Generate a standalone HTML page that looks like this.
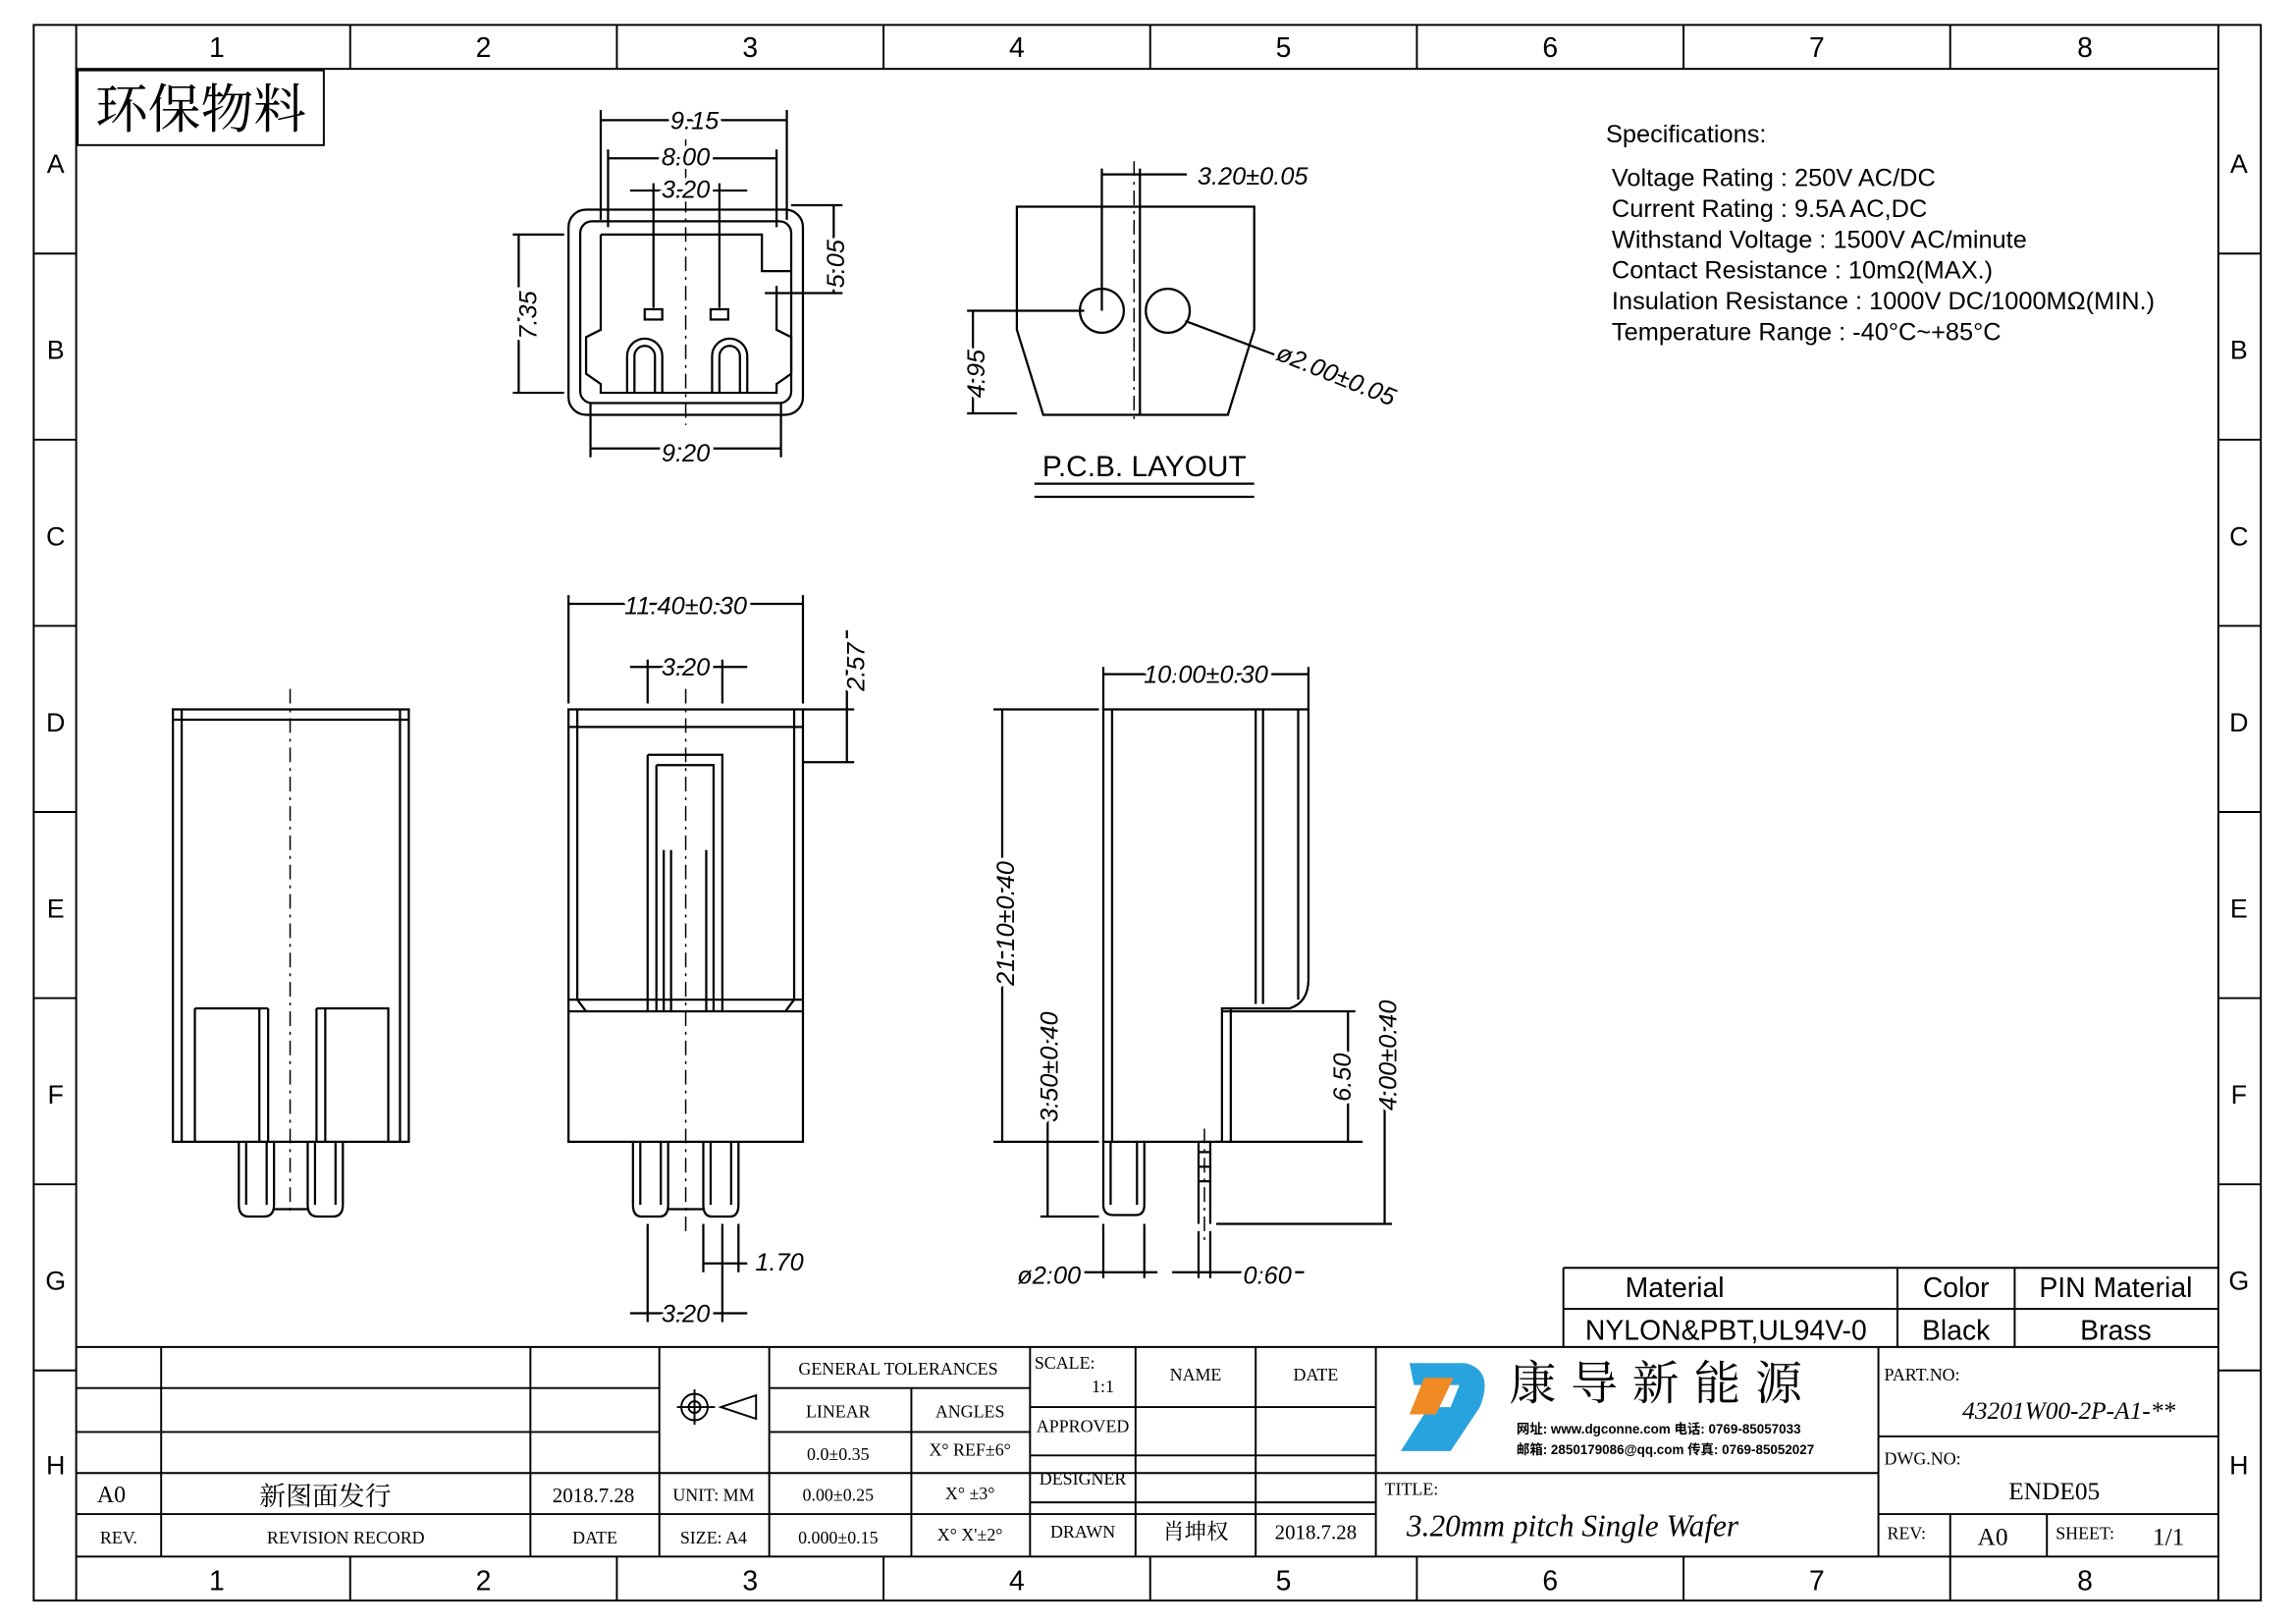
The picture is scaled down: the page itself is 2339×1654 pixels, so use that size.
<!DOCTYPE html>
<html><head><meta charset="utf-8"><style>
html,body{margin:0;padding:0;background:#fff}
svg{display:block}
text{font-family:"Liberation Sans","Noto Sans CJK SC",sans-serif;fill:#000}
.s{font-family:"Liberation Serif","Noto Serif CJK SC",serif}
.d text{stroke:#fff;stroke-width:5px;paint-order:stroke;stroke-linejoin:round}
</style></head><body>
<svg width="2339" height="1654" viewBox="0 0 1567 1108" preserveAspectRatio="none" xmlns="http://www.w3.org/2000/svg">
<g fill="none" stroke="#000" stroke-width="1.3">
<rect x="23" y="17" width="1520" height="1075"/>
<rect x="52" y="47" width="1462" height="1015"/>
<line x1="52" y1="17" x2="52" y2="47"/><line x1="52" y1="1062" x2="52" y2="1092"/>
<line x1="1514" y1="17" x2="1514" y2="47"/><line x1="1514" y1="1062" x2="1514" y2="1092"/>
<g id="cd">
<line x1="239" y1="17" x2="239" y2="47"/><line x1="421" y1="17" x2="421" y2="47"/><line x1="603" y1="17" x2="603" y2="47"/><line x1="785" y1="17" x2="785" y2="47"/><line x1="967" y1="17" x2="967" y2="47"/><line x1="1149" y1="17" x2="1149" y2="47"/><line x1="1331" y1="17" x2="1331" y2="47"/>
</g>
<use href="#cd" transform="translate(0,1045)"/>
<g id="rd">
<line x1="23" y1="173" x2="52" y2="173"/><line x1="23" y1="300" x2="52" y2="300"/><line x1="23" y1="427" x2="52" y2="427"/><line x1="23" y1="554" x2="52" y2="554"/><line x1="23" y1="681" x2="52" y2="681"/><line x1="23" y1="808" x2="52" y2="808"/><line x1="23" y1="935" x2="52" y2="935"/>
</g>
<use href="#rd" transform="translate(1491,0)"/>
<rect x="53" y="48" width="168" height="51"/>
</g>
<g font-size="19" text-anchor="middle">
<text x="148" y="39">1</text><text x="330" y="39">2</text><text x="512" y="39">3</text><text x="694" y="39">4</text><text x="876" y="39">5</text><text x="1058" y="39">6</text><text x="1240" y="39">7</text><text x="1423" y="39">8</text>
<text x="148" y="1085">1</text><text x="330" y="1085">2</text><text x="512" y="1085">3</text><text x="694" y="1085">4</text><text x="876" y="1085">5</text><text x="1058" y="1085">6</text><text x="1240" y="1085">7</text><text x="1423" y="1085">8</text>
</g>
<g font-size="18" text-anchor="middle">
<text x="38" y="118">A</text><text x="38" y="245">B</text><text x="38" y="372">C</text><text x="38" y="499">D</text><text x="38" y="626">E</text><text x="38" y="753">F</text><text x="38" y="880">G</text><text x="38" y="1006">H</text>
<text x="1528" y="118">A</text><text x="1528" y="245">B</text><text x="1528" y="372">C</text><text x="1528" y="499">D</text><text x="1528" y="626">E</text><text x="1528" y="753">F</text><text x="1528" y="880">G</text><text x="1528" y="1006">H</text>
</g>
<text x="137" y="87" font-size="36" text-anchor="middle" class="s">环保物料</text>

<g font-size="17">
<text x="1096" y="97">Specifications:</text>
<text x="1100" y="127">Voltage Rating : 250V AC/DC</text>
<text x="1100" y="148">Current Rating : 9.5A AC,DC</text>
<text x="1100" y="169">Withstand Voltage : 1500V AC/minute</text>
<text x="1100" y="190">Contact Resistance : 10mΩ(MAX.)</text>
<text x="1100" y="211">Insulation Resistance : 1000V DC/1000MΩ(MIN.)</text>
<text x="1100" y="232">Temperature Range : -40°C~+85°C</text>
</g>

<g fill="none" stroke="#000" stroke-width="1.5">
<rect x="388" y="143" width="160" height="140" rx="12"/>
<rect x="396" y="151" width="144" height="124" rx="8"/>
<path d="M410 160 H520 V185 H540 M410 160 V225 L400 230 V255 L410 262 V268 H530 V262 L540 255 V230 L530 225 V195"/>
<rect x="440" y="211" width="12" height="7"/><rect x="485" y="211" width="12" height="7"/>
<path d="M428 268 V243 A12 12 0 0 1 452 243 V268 M433 268 V243 A7 7 0 0 1 447 243 V268"/>
<path d="M486 268 V243 A12 12 0 0 1 510 243 V268 M491 268 V243 A7 7 0 0 1 505 243 V268"/>
<path d="M410 75 V150 M537 75 V150 M410 82 H537 M415 102 V155 M530 102 V155 M415 108 H530 M446 125 V210 M491 125 V210 M430 130 H510 M350 160 H385 M350 268 H385 M354 160 V268 M540 140 H575 M522 200 H575 M569 140 V200 M403 275 V312 M533 275 V312 M403 306 H533"/>
<path d="M694 141 H856 V225 L838 283 H712 L694 225 Z"/>
<circle cx="752" cy="212" r="15"/><circle cx="797" cy="212" r="15"/>
<path d="M752 115 V212 M778 115 V283 M752 119 H810 M660 212 H740 M660 282 H694 M664 212 V282 M809 219 L870 242 M706 330 H856 M706 339 H856"/>
<rect x="118" y="484" width="161" height="295"/>
<path d="M124 484 V779 M273 484 V779 M118 491 H279 M133 688 V779 M183 688 V779 M133 688 H183 M177 688 V779 M216 688 H265 V779 M216 688 V779 M222 688 V779"/>
<path d="M163 779 V822 Q163 830 170 830 H180 Q187 830 187 822 V779 M210 779 V822 Q210 830 217 830 H227 Q234 830 234 822 V779 M168 779 V822 M182 779 V822 M215 779 V822 M229 779 V822 M187 825 H210"/>
<rect x="388" y="484" width="160" height="295"/>
<path d="M394 484 V682 L400 690 M542 484 V682 L536 690 M388 690 H548 M388 682 H548 M442 515 H493 V690 M442 515 V690 M448 522 H487 V690 M448 522 V690 M388 496 H548"/>
<path d="M432 779 V822 Q432 830 438 830 H450 Q456 830 456 822 V779 M480 779 V822 Q480 830 486 830 H498 Q504 830 504 822 V779 M437 779 V822 M451 779 V822 M485 779 V822 M499 779 V822 M456 825 H480 M453 580 V690 M458 580 V690 M482 580 V690"/>
<path d="M388 406 V480 M548 406 V480 M388 412 H548 M442 450 V480 M493 450 V480 M430 455 H510 M548 484 H583 M548 520 H583 M578 430 V520 M480 835 V868 M504 835 V868 M480 862 H510 M442 835 V902 M493 835 V902 M430 896 H510"/>
<path d="M753 484 H893 V668 Q893 684 880 688 H834 V779 H753 Z"/>
<path d="M759 484 V779 M857 484 V685 M862 484 V685 M886 484 V682 M834 690 H893 M840 688 V779"/>
<path d="M753 779 V822 Q753 829 760 829 H775 Q781 829 781 822 V779 M758 779 V822 M776 779 V822 M818 779 V835 M826 779 V835 M818 786 H826 M818 796 H826 M818 806 H826"/>
<path d="M753 455 V484 M893 455 V484 M753 460 H893 M678 484 H750 M678 779 H750 M684 484 V779 M710 779 H750 M710 830 H750 M715 690 V830 M893 690 H925 M830 779 H930 M920 690 V779 M830 835 H950 M945 690 V835 M753 835 V872 M781 835 V872 M700 868 H790 M818 840 V872 M826 840 V872 M800 868 H890"/>
<path stroke-width="1" stroke-dasharray="10 4 2 4" d="M468 95 V290 M774 110 V290 M198 470 V830 M468 470 V840 M822 770 V850"/>
</g>
<g class="d" font-size="17" font-style="italic">
<text x="474" y="88" text-anchor="middle">9.15</text>
<text x="468" y="113" text-anchor="middle">8.00</text>
<text x="468" y="135" text-anchor="middle">3.20</text>
<text x="468" y="315" text-anchor="middle">9.20</text>
<text x="855" y="126" text-anchor="middle">3.20±0.05</text>
<text transform="translate(870 245) rotate(22)">ø2.00±0.05</text>
<text x="468" y="419" text-anchor="middle">11.40±0.30</text>
<text x="468" y="461" text-anchor="middle">3.20</text>
<text x="532" y="867" text-anchor="middle">1.70</text>
<text x="468" y="902" text-anchor="middle">3.20</text>
<text x="823" y="466" text-anchor="middle">10.00±0.30</text>
<text x="716" y="876" text-anchor="middle">ø2.00</text>
<text x="865" y="876" text-anchor="middle">0.60</text>
<text transform="translate(366 215) rotate(-90)" text-anchor="middle">7.35</text>
<text transform="translate(576 180) rotate(-90)" text-anchor="middle">5.05</text>
<text transform="translate(672 255) rotate(-90)" text-anchor="middle">4.95</text>
<text transform="translate(590 455) rotate(-90)" text-anchor="middle">2.57</text>
<text transform="translate(692 630) rotate(-90)" text-anchor="middle">21.10±0.40</text>
<text transform="translate(722 728) rotate(-90)" text-anchor="middle">3.50±0.40</text>
<text transform="translate(922 735) rotate(-90)" text-anchor="middle">6.50</text>
<text transform="translate(953 720) rotate(-90)" text-anchor="middle">4.00±0.40</text>
</g>
<text x="781" y="325" font-size="20" text-anchor="middle">P.C.B. LAYOUT</text>

<g fill="none" stroke="#000" stroke-width="1.3">
<path d="M1067 865 H1514 M1067 865 V919 M1067 893 H1514 M1295 865 V919 M1375 865 V919"/>
<path d="M52 919 H1514 M52 947 H450 M52 977 H450 M52 1005 H939 M52 1033 H939 M110 919 V1062 M362 919 V1062 M450 919 V1062 M525 919 V1062 M703 919 V1062 M775 919 V1062 M857 919 V1062 M939 919 V1062 M1282 919 V1062 M525 947 H703 M525 977 H703 M622 947 V1062 M703 960 H939 M703 993 H939 M703 1025 H939 M939 1005 H1282 M1282 980 H1514 M1282 1033 H1514 M1331 1033 V1062 M1397 1033 V1062"/>
<circle cx="474" cy="960" r="9"/><circle cx="474" cy="960" r="4"/><path d="M462 960 H488 M474 948 V972 M492 960 L516 952 V968 Z"/>
</g>
<g font-size="19" text-anchor="middle">
<text x="1143" y="885">Material</text><text x="1335" y="885">Color</text><text x="1444" y="885">PIN Material</text>
<text x="1178" y="914">NYLON&amp;PBT,UL94V-0</text><text x="1335" y="914">Black</text><text x="1444" y="914">Brass</text>
</g>
<g class="s" font-size="12" text-anchor="middle">
<text x="613" y="938" class="s">GENERAL TOLERANCES</text>
<text x="572" y="967" class="s">LINEAR</text><text x="662" y="967" class="s">ANGLES</text>
<text x="572" y="996" class="s">0.0±0.35</text><text x="662" y="993" class="s">X° REF±6°</text>
<text x="572" y="1024" class="s">0.00±0.25</text><text x="662" y="1023" class="s">X° ±3°</text>
<text x="572" y="1053" class="s">0.000±0.15</text><text x="662" y="1051" class="s">X° X'±2°</text>
<text x="487" y="1024" class="s">UNIT: MM</text><text x="487" y="1053" class="s">SIZE: A4</text>
<text x="816" y="942" class="s">NAME</text><text x="898" y="942" class="s">DATE</text>
<text x="739" y="977" class="s">APPROVED</text><text x="739" y="1013" class="s">DESIGNER</text><text x="739" y="1049" class="s">DRAWN</text>
<text x="816" y="1050" class="s" font-size="15">肖坤权</text><text x="898" y="1050" class="s" font-size="14">2018.7.28</text>
<text x="81" y="1053" class="s">REV.</text><text x="236" y="1053" class="s">REVISION RECORD</text><text x="406" y="1053" class="s">DATE</text>
<text x="76" y="1025" class="s" font-size="16">A0</text><text x="222" y="1027" class="s" font-size="18">新图面发行</text><text x="405" y="1025" class="s" font-size="14">2018.7.28</text>
</g>
<text x="706" y="934" font-size="12" class="s">SCALE:</text><text x="745" y="950" font-size="12" class="s">1:1</text>
<text x="945" y="1020" font-size="12" class="s">TITLE:</text>
<text x="960" y="1048" font-size="21" class="s" font-style="italic">3.20mm pitch Single Wafer</text>
<text x="1286" y="942" font-size="12" class="s">PART.NO:</text>
<text x="1412" y="968" font-size="17" class="s" font-style="italic" text-anchor="middle">43201W00-2P-A1-**</text>
<text x="1286" y="999" font-size="12" class="s">DWG.NO:</text>
<text x="1402" y="1023" font-size="17" class="s" text-anchor="middle">ENDE05</text>
<text x="1288" y="1050" font-size="12" class="s">REV:</text><text x="1360" y="1054" font-size="17" class="s" text-anchor="middle">A0</text>
<text x="1403" y="1050" font-size="12" class="s">SHEET:</text><text x="1480" y="1054" font-size="17" class="s" text-anchor="middle">1/1</text>
<path d="M962 930 H1000 Q1020 935 1010 960 L990 990 H956 L975 960 H990 L996 945 H965 Z" fill="#29a3de"/>
<path d="M972 940 H992 L980 965 H962 Z" fill="#f08a24"/>
<text x="1030" y="955" font-size="32" letter-spacing="10" class="s">康导新能源</text>
<text x="1035" y="978" font-size="9" font-weight="bold">网址: www.dgconne.com  电话: 0769-85057033</text>
<text x="1035" y="992" font-size="9" font-weight="bold">邮箱: 2850179086@qq.com 传真: 0769-85052027</text>
</svg>
</body></html>
